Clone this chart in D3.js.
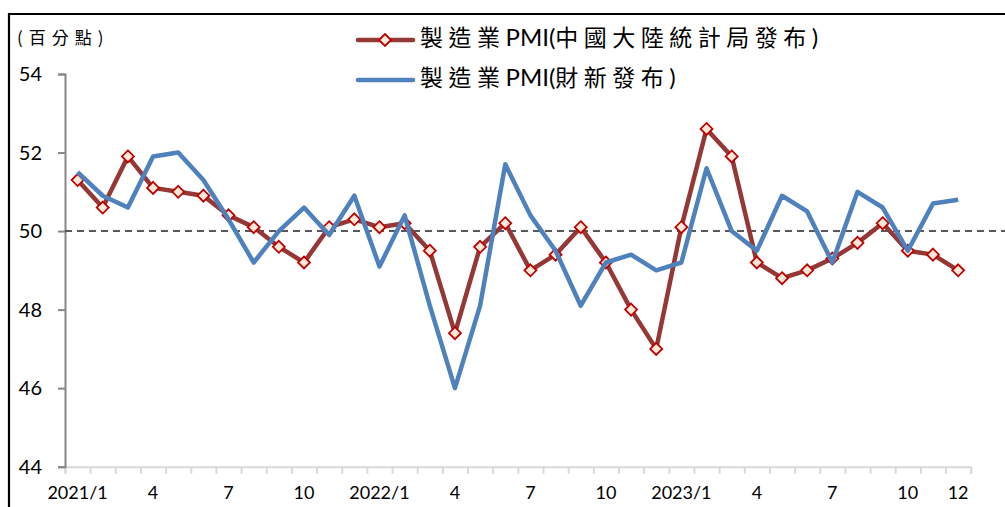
<!DOCTYPE html>
<html>
<head>
<meta charset="utf-8">
<script src="https://cdn.jsdelivr.net/npm/d3@7"></script>
<style>
  body { margin: 0; background: #fff; }
  svg { display: block; }
</style>
</head>
<body>
<svg id="chart"></svg>
<script>
// 製造業PMI chart, 2021/1 - 2023/12

const months = [
  '2021/1','2021/2','2021/3','2021/4','2021/5','2021/6','2021/7','2021/8','2021/9','2021/10','2021/11','2021/12',
  '2022/1','2022/2','2022/3','2022/4','2022/5','2022/6','2022/7','2022/8','2022/9','2022/10','2022/11','2022/12',
  '2023/1','2023/2','2023/3','2023/4','2023/5','2023/6','2023/7','2023/8','2023/9','2023/10','2023/11','2023/12'
];
const xLabels = [
  '2021/1','','','4','','','7','','','10','','',
  '2022/1','','','4','','','7','','','10','','',
  '2023/1','','','4','','','7','','','10','','12'
];
const nbsPMI = [
  51.3, 50.6, 51.9, 51.1, 51.0, 50.9, 50.4, 50.1, 49.6, 49.2, 50.1, 50.3,
  50.1, 50.2, 49.5, 47.4, 49.6, 50.2, 49.0, 49.4, 50.1, 49.2, 48.0, 47.0,
  50.1, 52.6, 51.9, 49.2, 48.8, 49.0, 49.3, 49.7, 50.2, 49.5, 49.4, 49.0
];
const caixinPMI = [
  51.5, 50.9, 50.6, 51.9, 52.0, 51.3, 50.3, 49.2, 50.0, 50.6, 49.9, 50.9,
  49.1, 50.4, 48.1, 46.0, 48.1, 51.7, 50.4, 49.5, 48.1, 49.2, 49.4, 49.0,
  49.2, 51.6, 50.0, 49.5, 50.9, 50.5, 49.2, 51.0, 50.6, 49.5, 50.7, 50.8
];
const yTicks = [44, 46, 48, 50, 52, 54];
const seriesNames = ['製造業PMI(中國大陸統計局發布)', '製造業PMI(財新發布)'];
const unitLabel = '(百分點)';

const width = 1005, height = 507;
const plotLeft = 65, plotRight = 970.7, plotTop = 74, plotBottom = 466.7;
const latin = 'Lato, "Open Sans", sans-serif';
const cjk = '"Noto Sans CJK TC", "Noto Sans CJK SC", sans-serif';

const svg = d3.select('#chart').attr('width', width).attr('height', height);

// outer frame (only top and left edges visible)
svg.append('path')
  .attr('d', `M9,${height} L9,14 L${width},14`)
  .attr('fill', 'none')
  .attr('stroke', '#000')
  .attr('stroke-width', 2.2);

const x = d3.scaleBand().domain(months).range([plotLeft, plotRight]);
const xEdge = d3.scaleLinear().domain([0, months.length]).range([plotLeft, plotRight]);
const y = d3.scaleLinear().domain([44, 54]).range([plotBottom, plotTop]);

// x axis with ticks between categories
const xAxis = svg.append('g')
  .attr('transform', `translate(0,${plotBottom})`)
  .call(d3.axisBottom(xEdge).tickValues(d3.range(months.length + 1)).tickSize(7).tickFormat(''));
xAxis.select('.domain').attr('stroke', '#d9d9d9').attr('stroke-width', 2);
xAxis.selectAll('.tick line').attr('stroke', '#d9d9d9').attr('stroke-width', 2);

svg.append('g').selectAll('text')
  .data(months)
  .join('text')
  .attr('x', d => x(d) + x.bandwidth() / 2)
  .attr('y', 493)
  .attr('dy', '0.35em')
  .attr('text-anchor', 'middle')
  .style('font-family', latin)
  .style('font-size', '18px')
  .style('fill', '#000')
  .text((d, i) => xLabels[i]);

// y axis
const yAxis = svg.append('g')
  .attr('transform', `translate(${plotLeft},0)`)
  .call(d3.axisLeft(y).tickValues(yTicks).tickSize(7).tickFormat(''));
yAxis.select('.domain').attr('stroke', '#868686').attr('stroke-width', 2);
yAxis.selectAll('.tick line').attr('stroke', '#868686').attr('stroke-width', 2);

svg.append('g').selectAll('text')
  .data(yTicks)
  .join('text')
  .attr('x', 42)
  .attr('y', d => y(d))
  .attr('dy', '0.35em')
  .attr('text-anchor', 'end')
  .style('font-family', latin)
  .style('font-size', '20px')
  .style('fill', '#000')
  .text(d => d);

// 50 reference line
svg.append('line')
  .attr('x1', plotLeft).attr('x2', width)
  .attr('y1', y(50)).attr('y2', y(50))
  .attr('stroke', '#595959')
  .attr('stroke-width', 2)
  .attr('stroke-dasharray', '7,5');

const line = d3.line()
  .x((d, i) => x(months[i]) + x.bandwidth() / 2)
  .y(d => y(d));

const diamond = (cx, cy, r) => `M${cx},${cy - r}L${cx + r},${cy}L${cx},${cy + r}L${cx - r},${cy}Z`;

// NBS series
svg.append('path')
  .datum(nbsPMI)
  .attr('d', line)
  .attr('fill', 'none')
  .attr('stroke', '#953735')
  .attr('stroke-width', 4.5)
  .attr('stroke-linejoin', 'round');

svg.append('g').selectAll('path')
  .data(nbsPMI)
  .join('path')
  .attr('d', (d, i) => diamond(x(months[i]) + x.bandwidth() / 2, y(d), 6))
  .attr('fill', '#fde9d9')
  .attr('stroke', '#c00000')
  .attr('stroke-width', 1.8);

// Caixin series
svg.append('path')
  .datum(caixinPMI)
  .attr('d', line)
  .attr('fill', 'none')
  .attr('stroke', '#4f81bd')
  .attr('stroke-width', 4.5)
  .attr('stroke-linejoin', 'round');

// unit label
svg.append('text')
  .attr('x', 17)
  .attr('y', 38)
  .attr('dy', '0.35em')
  .style('font-family', cjk)
  .style('font-size', '17px')
  .style('letter-spacing', '6px')
  .style('fill', '#000')
  .text(unitLabel);

// legend
const legend = svg.append('g');
const legendRows = [
  { name: seriesNames[0], color: '#953735', marker: true, y: 40 },
  { name: seriesNames[1], color: '#4f81bd', marker: false, y: 80 }
];
legendRows.forEach(r => {
  legend.append('line')
    .attr('x1', 358).attr('x2', 413)
    .attr('y1', r.y).attr('y2', r.y)
    .attr('stroke', r.color)
    .attr('stroke-width', 4.5)
    .attr('stroke-linecap', 'round');
  if (r.marker) {
    legend.append('path')
      .attr('d', diamond(385, r.y, 6))
      .attr('fill', '#fde9d9')
      .attr('stroke', '#c00000')
      .attr('stroke-width', 1.8);
  }
  const t = legend.append('text')
    .attr('x', 420)
    .attr('y', r.y)
    .attr('dy', '0.36em')
    .style('fill', '#000');
  // split into CJK and Latin runs
  const parts = r.name.match(/[\u3400-\u9fff]+|[^\u3400-\u9fff]+/g);
  parts.forEach(p => {
    const isCjk = /[\u3400-\u9fff]/.test(p);
    t.append('tspan')
      .style('font-family', isCjk ? cjk : latin)
      .style('font-size', isCjk ? '23px' : '24px')
      .style('letter-spacing', isCjk ? '5.5px' : '0px')
      .text(p);
  });
});
</script>
</body>
</html>
